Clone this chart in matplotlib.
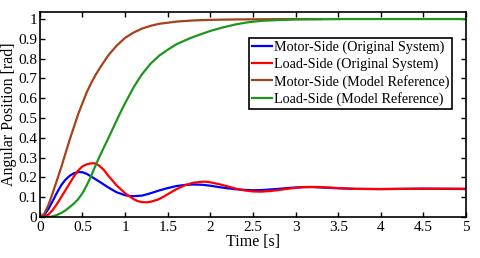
import matplotlib
matplotlib.use('Agg')
import matplotlib.pyplot as plt

plt.rcParams['font.family'] = ['Liberation Serif', 'DejaVu Serif']

# motor-side, original system
t_motor = [0, 0.05, 0.1, 0.15, 0.2, 0.25, 0.3, 0.35, 0.4, 0.45, 0.5, 0.55, 0.6, 0.7,
           0.8, 0.9, 1.0, 1.05, 1.1, 1.2, 1.3, 1.4, 1.5, 1.6, 1.7, 1.8, 1.9, 2.0,
           2.1, 2.2, 2.3, 2.4, 2.5, 2.6, 2.7, 2.8, 2.9, 3.0, 3.1, 3.2, 3.3, 3.5,
           3.7, 4.0, 4.5, 5.0]
motor_orig = [0, 0.01, 0.04, 0.08, 0.122, 0.16, 0.188, 0.208, 0.221, 0.227, 0.226,
              0.218, 0.205, 0.178, 0.15, 0.125, 0.11, 0.106, 0.105, 0.108, 0.12,
              0.134, 0.146, 0.156, 0.162, 0.164, 0.163, 0.158, 0.151, 0.145, 0.14,
              0.137, 0.135, 0.136, 0.139, 0.142, 0.146, 0.149, 0.151, 0.151, 0.149,
              0.145, 0.142, 0.141, 0.143, 0.141]

# load-side, original system
t_load = [0, 0.05, 0.1, 0.15, 0.2, 0.25, 0.3, 0.35, 0.4, 0.45, 0.5, 0.55, 0.6, 0.65,
          0.7, 0.75, 0.8, 0.85, 0.9, 1.0, 1.1, 1.15, 1.2, 1.25, 1.3, 1.38, 1.45,
          1.54, 1.6, 1.7, 1.8, 1.9, 1.95, 2.0, 2.1, 2.2, 2.3, 2.4, 2.5, 2.6, 2.7,
          2.8, 2.9, 3.0, 3.1, 3.2, 3.3, 3.5, 3.7, 4.0, 4.5, 5.0]
load_orig = [0, 0.002, 0.012, 0.035, 0.065, 0.10, 0.135, 0.17, 0.205, 0.235, 0.256,
             0.266, 0.271, 0.271, 0.258, 0.238, 0.21, 0.185, 0.16, 0.12, 0.09, 0.08,
             0.075, 0.074, 0.077, 0.087, 0.102, 0.125, 0.14, 0.16, 0.173, 0.178,
             0.178, 0.175, 0.166, 0.155, 0.143, 0.134, 0.129, 0.128, 0.131, 0.136,
             0.142, 0.147, 0.151, 0.152, 0.151, 0.146, 0.142, 0.141, 0.143, 0.143]

# motor-side, model reference
t_motor_ref = [0, 0.05, 0.1, 0.15, 0.2, 0.25, 0.3, 0.35, 0.4, 0.45, 0.5, 0.55, 0.6,
               0.65, 0.7, 0.8, 0.9, 1.0, 1.1, 1.2, 1.3, 1.4, 1.6, 1.8, 2.0, 2.3,
               2.6, 3.0, 3.3]
motor_ref = [0, 0.015, 0.06, 0.12, 0.185, 0.25, 0.32, 0.39, 0.455, 0.52, 0.575, 0.63,
             0.675, 0.715, 0.75, 0.815, 0.865, 0.905, 0.932, 0.952, 0.966, 0.976,
             0.987, 0.993, 0.996, 0.998, 0.999, 1.0, 1.0]

# load-side, model reference
t_load_ref = [0, 0.1, 0.15, 0.2, 0.25, 0.3, 0.35, 0.4, 0.45, 0.5, 0.55, 0.6, 0.65,
              0.7, 0.75, 0.8, 0.86, 0.9, 0.95, 1.0, 1.1, 1.17, 1.2, 1.3, 1.4, 1.5,
              1.6, 1.76, 1.9, 2.0, 2.15, 2.3, 2.43, 2.6, 2.8, 3.0, 3.3, 3.6, 5.0]
load_ref = [0, 0.0, 0.003, 0.01, 0.02, 0.033, 0.05, 0.068, 0.09, 0.12, 0.16, 0.205,
            0.257, 0.305, 0.35, 0.395, 0.45, 0.487, 0.532, 0.575, 0.655, 0.703,
            0.722, 0.775, 0.815, 0.845, 0.872, 0.903, 0.925, 0.94, 0.958, 0.973,
            0.983, 0.991, 0.995, 0.998, 0.999, 1.0, 1.0]

labels = ['Motor-Side (Original System)', 'Load-Side (Original System)',
          'Motor-Side (Model Reference)', 'Load-Side (Model Reference)']
colors = ['#0000FF', '#FF0000', '#A3421C', '#1E961E']

fig = plt.figure(figsize=(4.8, 2.58), dpi=100)
ax = fig.add_axes([0.083, 0.159, 0.888, 0.794])

ax.plot(t_motor, motor_orig, color=colors[0], lw=1.6, label=labels[0])
ax.plot(t_load, load_orig, color=colors[1], lw=1.6, label=labels[1])
ax.plot(t_motor_ref, motor_ref, color=colors[2], lw=1.6, label=labels[2])
ax.plot(t_load_ref, load_ref, color=colors[3], lw=1.6, label=labels[3])

ax.set_xlim(0, 5)
ax.set_ylim(0, 1.035)
ax.set_xticks([0, 0.5, 1, 1.5, 2, 2.5, 3, 3.5, 4, 4.5, 5])
ax.set_xticklabels(['0', '0.5', '1', '1.5', '2', '2.5', '3', '3.5', '4', '4.5', '5'])
ax.set_yticks([0, 0.1, 0.2, 0.3, 0.4, 0.5, 0.6, 0.7, 0.8, 0.9, 1])
ax.set_yticklabels(['0', '0.1', '0.2', '0.3', '0.4', '0.5', '0.6', '0.7', '0.8', '0.9', '1'])
ax.tick_params(direction='in', top=True, right=True, length=3.5, width=1.0,
               labelsize=11, pad=2)
ax.tick_params(axis='x', pad=3)
for s in ax.spines.values():
    s.set_linewidth(1.2)

ax.set_xlabel('Time [s]', fontsize=11.5, labelpad=0)
ax.set_ylabel('Angular Position [rad]', fontsize=11.5, labelpad=1)

leg = ax.legend(loc='upper right', bbox_to_anchor=(0.967, 0.875), fontsize=10.2,
                handlelength=1.4, handletextpad=0.15, borderpad=0.2,
                labelspacing=0.25, borderaxespad=0, fancybox=False, framealpha=1)
leg.get_frame().set_edgecolor('black')
leg.get_frame().set_linewidth(1.2)

fig.savefig('out.png', dpi=100)
